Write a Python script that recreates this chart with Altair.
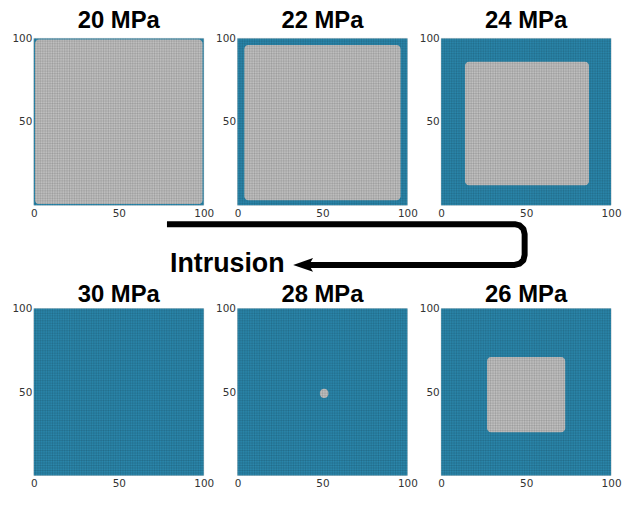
import altair as alt
import pandas as pd

# ---- data ----
pressure = ["20 MPa", "22 MPa", "24 MPa", "30 MPa", "28 MPa", "26 MPa"]
# extent of the unfilled (gray) region per panel, in grid cells (None = fully filled)
gray_x0 = [0.7, 4.0, 14.0, None, 48.5, 27.0]
gray_x1 = [99.3, 96.0, 87.0, None, 53.5, 73.0]
gray_y0 = [0.7, 3.0, 12.0, None, 46.5, 26.0]
gray_y1 = [99.3, 96.0, 86.0, None, 52.0, 71.0]
grid_cells = list(range(101))
x_ticks = [0, 50, 100]
y_ticks = [50, 100]

# arrow annotation (local coordinates of the arrow strip)
arrow_x = [134, 484, 489, 492.7, 494, 494, 492.7, 489, 484, 273]
arrow_y = [5, 5, 6.3, 9.7, 15, 36, 41.3, 44.7, 46, 46]

BLUE = "#2f93bb"
GRAY = "#d2d2d2"
W, H = 171, 168

xs = alt.Scale(domain=[0, 100], nice=False, zero=False)
ys = alt.Scale(domain=[0, 100], nice=False, zero=False)
xaxis = alt.Axis(values=x_ticks, title=None, ticks=False, domain=False, grid=False,
                 labelFlush=False, labelPadding=3, labelFontSize=10.5,
                 labelFont="DejaVu Sans", labelColor="#333333")
yaxis = alt.Axis(values=y_ticks, title=None, ticks=False, domain=False, grid=False,
                 labelFlush=False, labelPadding=2, labelFontSize=10.5,
                 labelFont="DejaVu Sans", labelColor="#333333")


def panel(i, offset):
    full = pd.DataFrame({"x0": [0], "x1": [100], "y0": [0], "y1": [100]})
    if gray_x0[i] is None:
        g = pd.DataFrame({"x0": [], "x1": [], "y0": [], "y1": []})
    else:
        g = pd.DataFrame({"x0": [gray_x0[i]], "x1": [gray_x1[i]],
                          "y0": [gray_y0[i]], "y1": [gray_y1[i]]})
    enc = dict(x=alt.X("x0:Q", scale=xs, axis=xaxis), x2="x1",
               y=alt.Y("y0:Q", scale=ys, axis=yaxis), y2="y1")
    blue = alt.Chart(full).mark_rect(color=BLUE).encode(**enc)
    gray = alt.Chart(g).mark_rect(color=GRAY, cornerRadius=4).encode(**enc)
    gdf = pd.DataFrame({"g": grid_cells})
    vgrid = alt.Chart(gdf).mark_rule(color="black", opacity=0.24, strokeWidth=0.6).encode(
        x=alt.X("g:Q", scale=xs, axis=xaxis))
    hgrid = alt.Chart(gdf).mark_rule(color="black", opacity=0.24, strokeWidth=0.6).encode(
        y=alt.Y("g:Q", scale=ys, axis=yaxis))
    return alt.layer(blue, gray, vgrid, hgrid).properties(
        width=W, height=H,
        title=alt.TitleParams(pressure[i], fontSize=24, font="Liberation Sans",
                              fontWeight="bold", color="black", offset=offset,
                              baseline="alphabetic", anchor="middle", frame="group"))


top = alt.hconcat(*[panel(i, -19) for i in range(3)], spacing=0)
bottom = alt.hconcat(*[panel(i, -22.5) for i in range(3, 6)], spacing=0)

AW, AH = 575, 64
axs = alt.Scale(domain=[0, AW], nice=False, zero=False)
ays = alt.Scale(domain=[0, AH], nice=False, zero=False, reverse=True)
adf = pd.DataFrame({"x": arrow_x, "y": arrow_y, "o": list(range(len(arrow_x)))})
line = alt.Chart(adf).mark_line(color="black", strokeWidth=6, strokeJoin="round").encode(
    x=alt.X("x:Q", scale=axs, axis=None), y=alt.Y("y:Q", scale=ays, axis=None), order="o:Q")
head = alt.Chart(pd.DataFrame({"x": [271], "y": [46]})).mark_point(
    shape="M -1 0 L 1 -0.7 L 0.6 0 L 1 0.7 Z", filled=True, color="black",
    opacity=1, size=400, strokeWidth=0).encode(
    x=alt.X("x:Q", scale=axs, axis=None), y=alt.Y("y:Q", scale=ays, axis=None))
label = alt.Chart(pd.DataFrame({"x": [137], "y": [53], "t": ["Intrusion"]})).mark_text(
    font="Liberation Sans", fontWeight="bold", fontSize=27, color="black",
    align="left", baseline="alphabetic").encode(
    x=alt.X("x:Q", scale=axs, axis=None), y=alt.Y("y:Q", scale=ays, axis=None), text="t:N")
arrow = alt.layer(line, head, label).properties(width=AW, height=AH)

chart = alt.vconcat(top, arrow, bottom, spacing=0).properties(
    padding={"left": 3, "top": 0, "right": 0, "bottom": 0}
).configure_view(stroke=None)

chart.save("out.html", embed_options={"renderer": "svg", "actions": False})
